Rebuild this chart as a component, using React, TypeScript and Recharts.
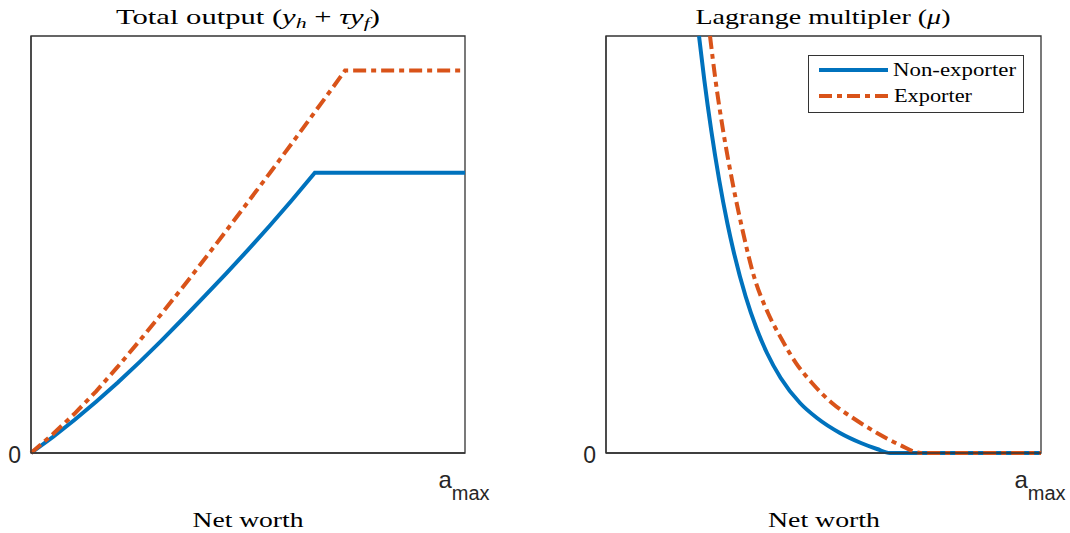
import React from "react";
import { LineChart, Line, XAxis, YAxis, ReferenceArea, Legend } from "recharts";

// ---- Left panel: Total output (y_h + tau*y_f) vs net worth (0 .. a_max = 100)
const outputNonExpX = [0, 5, 10, 15, 20, 25, 30, 35, 40, 45, 50, 55, 60, 65.4, 100];
const outputNonExpY = [0, 3.8, 7.9, 12.3, 16.9, 21.8, 26.9, 32.2, 37.6, 43.1, 48.7, 54.5, 60.5, 67.2, 67.2];
const outputExpX = [0, 5, 10, 15, 20, 25, 30, 35, 40, 45, 50, 55, 60, 65, 70, 72.35, 100];
const outputExpY = [0, 4.5, 9.4, 14.8, 20.7, 26.9, 33.3, 39.8, 46.5, 53.3, 60.2, 67.1, 74.1, 81.2, 88.3, 91.7, 91.7];

// ---- Right panel: Lagrange multiplier (mu) vs net worth
const muNonExpX = [21.38, 22.6, 24.18, 26.02, 27.89, 29.26, 32.14, 34.57, 37.01, 40.16, 44.6, 48.51, 53.79, 58.62, 62.3, 65.29, 100];
const muNonExpY = [100, 89.45, 77.46, 65.47, 55.16, 48.68, 37.41, 29.98, 23.98, 17.99, 11.99, 8.39, 4.8, 2.4, 0.96, 0, 0];
const muExpX = [23.91, 25.17, 26.9, 28.97, 31.38, 33.79, 37.24, 40.23, 43.68, 47.36, 51.95, 56.78, 62.3, 67.59, 72.41, 100];
const muExpY = [100, 89.45, 77.46, 65.47, 53.48, 43.17, 33.57, 27.58, 21.58, 16.79, 11.99, 8.39, 4.8, 1.92, 0, 0];

const xTicks = [100];
const yTicks = [0];
const seriesNames = ["Non-exporter", "Exporter"];

const zip = (xs: number[], ys: number[]) => xs.map((x, i) => ({ x, y: ys[i] }));

const BLUE = "#0072BD";
const ORANGE = "#D95319";
const AXIS = "#333333";
const DASH = "13 5 5 5";
const SERIF = "'Liberation Serif', 'Times New Roman', serif";
const SANS = "'Liberation Sans', Arial, Helvetica, sans-serif";

const AmaxTick = (props: any) => {
  const { x, y } = props;
  return (
    <text x={x - 1} y={y + 34.5} textAnchor="middle" fontFamily={SANS} fill="#262626" fontSize={24}>
      a
      <tspan fontSize={20} dy={12}>max</tspan>
    </text>
  );
};

const ZeroTick = (props: any) => {
  const { x, y, payload } = props;
  return (
    <text x={x - 10} y={y + 10} textAnchor="end" fontFamily={SANS} fill="#262626" fontSize={23}>
      {payload.value}
    </text>
  );
};

const LegendBox = () => (
  <svg width={216} height={58} style={{ display: "block" }}>
    <rect x={0.5} y={0.5} width={215} height={57} fill="#fff" stroke={AXIS} strokeWidth={1} />
    <line x1={11} x2={80} y1={15} y2={15} stroke={BLUE} strokeWidth={4} />
    <line x1={11} x2={80} y1={41} y2={41} stroke={ORANGE} strokeWidth={4} strokeDasharray={DASH} />
    <text x={85} y={21} fontFamily={SERIF} fontSize={19} fill="#000" textLength={123} lengthAdjust="spacingAndGlyphs">
      {seriesNames[0]}
    </text>
    <text x={86} y={47} fontFamily={SERIF} fontSize={19} fill="#000" textLength={78} lengthAdjust="spacingAndGlyphs">
      {seriesNames[1]}
    </text>
  </svg>
);

const Panel = (props: {
  blue: { x: number; y: number }[];
  orange: { x: number; y: number }[];
  margin: { top: number; right: number; bottom: number; left: number };
  curve: "linear" | "monotone";
  legend?: boolean;
}) => (
  <LineChart width={535} height={533} margin={props.margin}>
    <XAxis
      type="number"
      dataKey="x"
      domain={[0, 100]}
      ticks={xTicks}
      tick={(p: any) => <AmaxTick {...p} />}
      tickLine={false}
      tickSize={0}
      tickMargin={0}
      height={30}
      axisLine={{ stroke: AXIS, strokeWidth: 1.3 }}
    />
    <YAxis
      type="number"
      dataKey="y"
      domain={[0, 100]}
      ticks={yTicks}
      tick={(p: any) => <ZeroTick {...p} />}
      tickLine={false}
      tickSize={0}
      tickMargin={0}
      width={25}
      axisLine={{ stroke: AXIS, strokeWidth: 1.3 }}
    />
    <ReferenceArea x1={0} x2={100} y1={0} y2={100} fill="none" fillOpacity={0} stroke={AXIS} strokeWidth={1.3} />
    <Line
      data={props.blue}
      dataKey="y"
      name={seriesNames[0]}
      type={props.curve}
      stroke={BLUE}
      strokeWidth={4}
      dot={false}
      activeDot={false}
      isAnimationActive={false}
    />
    <Line
      data={props.orange}
      dataKey="y"
      name={seriesNames[1]}
      type={props.curve}
      stroke={ORANGE}
      strokeWidth={4}
      strokeDasharray={DASH}
      dot={false}
      activeDot={false}
      isAnimationActive={false}
    />
    {props.legend ? (
      <Legend
        layout="horizontal"
        align="center"
        verticalAlign="middle"
        content={() => <LegendBox />}
        wrapperStyle={{ position: "absolute", left: 273, top: 55, width: 216, height: 58 }}
      />
    ) : null}
  </LineChart>
);

export default function App() {
  return (
    <div style={{ position: "absolute", left: 0, top: 0, width: 1070, height: 533, background: "#fff", overflow: "hidden" }}>
      <div style={{ position: "absolute", left: 0, top: 0 }}>
        <Panel
          blue={zip(outputNonExpX, outputNonExpY)}
          orange={zip(outputExpX, outputExpY)}
          margin={{ top: 36, right: 70, bottom: 50, left: 6 }}
          curve="linear"
        />
      </div>
      <div style={{ position: "absolute", left: 535, top: 0 }}>
        <Panel
          blue={zip(muNonExpX, muNonExpY)}
          orange={zip(muExpX, muExpY)}
          margin={{ top: 36, right: 29, bottom: 50, left: 46 }}
          curve="monotone"
          legend
        />
      </div>
      <svg width={1070} height={533} style={{ position: "absolute", left: 0, top: 0, pointerEvents: "none" }}>
        <text x={248} y={24} textAnchor="middle" fontFamily={SERIF} fontSize={21} fill="#000" textLength={264} lengthAdjust="spacingAndGlyphs">
          Total output (
          <tspan fontStyle="italic">y</tspan>
          <tspan fontSize={15} fontStyle="italic" dy={4}>h</tspan>
          <tspan dy={-4}> + </tspan>
          <tspan fontStyle="italic">τy</tspan>
          <tspan fontSize={15} fontStyle="italic" dy={4}>f</tspan>
          <tspan dy={-4}>)</tspan>
        </text>
        <text x={823} y={24} textAnchor="middle" fontFamily={SERIF} fontSize={21} fill="#000" textLength={255} lengthAdjust="spacingAndGlyphs">
          Lagrange multipler (<tspan fontStyle="italic">μ</tspan>)
        </text>
        <text x={248} y={527} textAnchor="middle" fontFamily={SERIF} fontSize={21} fill="#000" textLength={111} lengthAdjust="spacingAndGlyphs">
          Net worth
        </text>
        <text x={824} y={527} textAnchor="middle" fontFamily={SERIF} fontSize={21} fill="#000" textLength={112} lengthAdjust="spacingAndGlyphs">
          Net worth
        </text>
      </svg>
    </div>
  );
}
